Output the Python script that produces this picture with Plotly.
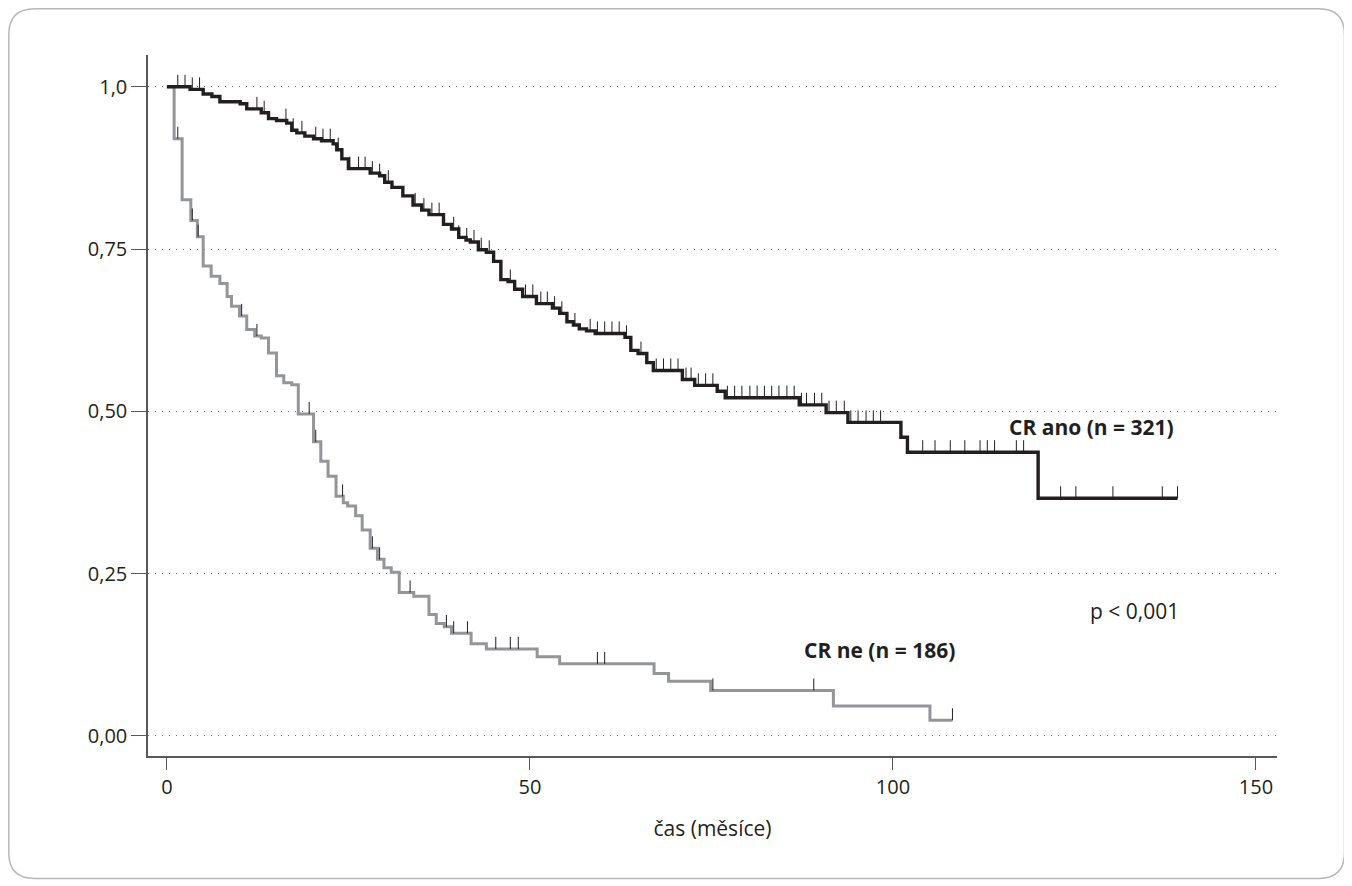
import plotly.graph_objects as go

# ---- data ----
# CR ano (n = 321): step times (months) and survival after each step
ano_t = [0, 3.2, 5.0, 6.2, 7.3, 10.1, 11.0, 13.0, 14.0, 15.1, 16.5, 17.2, 17.9, 19.0, 20.2,
         21.3, 22.9, 23.4, 24.1, 25.0, 28.0, 29.3, 30.0, 31.0, 32.5, 33.9, 35.1, 36.1, 38.1,
         39.2, 40.2, 41.2, 41.8, 42.9, 44.0, 45.0, 46.0, 47.0, 47.9, 49.0, 50.9, 53.1, 54.1,
         55.1, 56.0, 56.8, 57.8, 59.0, 63.1, 63.9, 64.9, 66.1, 67.0, 71.0, 72.7, 75.8, 76.9,
         87.1, 90.8, 93.8, 101.1, 102.0, 120.0]
ano_s = [1.0, 0.996, 0.989, 0.985, 0.977, 0.974, 0.966, 0.960, 0.951, 0.948, 0.944, 0.933, 0.929, 0.924, 0.920,
         0.917, 0.912, 0.903, 0.889, 0.874, 0.867, 0.863, 0.853, 0.845, 0.832, 0.818, 0.810, 0.803, 0.788,
         0.781, 0.768, 0.764, 0.761, 0.749, 0.745, 0.731, 0.703, 0.700, 0.688, 0.677, 0.666, 0.659, 0.651,
         0.638, 0.633, 0.627, 0.624, 0.620, 0.614, 0.594, 0.589, 0.575, 0.563, 0.549, 0.540, 0.531, 0.521,
         0.510, 0.498, 0.483, 0.460, 0.437, 0.366]
ano_end = 139.2
ano_cens = [1.5, 2.5, 3.5, 4.5, 12.4, 13.4, 16.4, 17.4, 18.6, 20.5, 21.5, 22.5, 23.6, 25.2, 26.4,
            27.3, 28.3, 29.3, 30.5, 34.2, 35.4, 36.5, 37.5, 39.5, 40.2, 41.3, 42.3, 43.3, 44.4,
            47.3, 49.4, 50.4, 51.5, 52.4, 53.4, 54.4, 56.2, 58.3, 59.3, 60.3, 61.3, 62.3, 63.3,
            65.3, 67.4, 68.4, 69.4, 70.4, 71.5, 72.2, 73.2, 74.2, 75.2, 77.2, 78.2, 79.2, 80.3,
            81.3, 82.3, 83.3, 84.3, 85.4, 86.4, 87.4, 88.1, 89.2, 90.2, 91.2, 92.2, 93.3, 94.2,
            95.2, 96.3, 97.3, 98.3, 104.1, 105.8, 107.9, 109.9, 112.0, 113.0, 114.0, 117.0,
            118.0, 123.1, 125.2, 130.3, 137.1, 139.2]

# CR ne (n = 186)
ne_t = [0, 1.0, 2.1, 3.3, 4.2, 5.0, 6.1, 7.3, 8.3, 8.9, 10.0, 11.0, 12.1, 13.0, 14.0, 15.1,
        16.1, 17.2, 18.1, 20.2, 21.2, 22.2, 23.3, 24.3, 24.9, 26.0, 26.9, 28.0, 29.0, 29.9,
        30.9, 32.0, 34.0, 36.1, 37.1, 38.2, 39.2, 41.9, 44.0, 51.0, 54.1, 67.1, 69.1, 74.9,
        91.8, 105.1]
ne_s = [1.0, 0.920, 0.826, 0.794, 0.769, 0.724, 0.708, 0.697, 0.677, 0.662, 0.647, 0.626, 0.616,
        0.613, 0.590, 0.555, 0.544, 0.541, 0.496, 0.453, 0.423, 0.400, 0.369, 0.359, 0.354,
        0.339, 0.317, 0.289, 0.272, 0.259, 0.252, 0.221, 0.215, 0.187, 0.173, 0.168, 0.158,
        0.142, 0.134, 0.122, 0.111, 0.096, 0.084, 0.070, 0.046, 0.024]
ne_end = 108.2
ne_cens = [1.5, 3.5, 4.3, 10.3, 12.4, 19.6, 20.5, 24.2, 28.3, 29.3, 33.5, 38.5, 39.5, 41.4,
           45.3, 47.3, 48.4, 59.3, 60.3, 75.2, 89.1, 108.2]

x_ticks = [0, 50, 100, 150]
y_ticks = [0, 0.25, 0.5, 0.75, 1.0]
y_ticktext = ["0,00", "0,25", "0,50", "0,75", "1,0"]

label_ano = "CR ano (n = 321)"
label_ne = "CR ne (n = 186)"
p_text = "p < 0,001"
x_title = "čas (měsíce)"

# ---- helpers ----
def surv_at(ts, ss, t):
    v = ss[0]
    for ti, si in zip(ts, ss):
        if ti <= t:
            v = si
        else:
            break
    return v

def cens_segments(ts, ss, cens, h=0.0185):
    xs, ys = [], []
    for c in cens:
        s = surv_at(ts, ss, c)
        xs += [c, c, None]
        ys += [s, s + h, None]
    return xs, ys

TXT = "#231f20"
FONT = "Open Sans"

fig = go.Figure()

# curves
fig.add_trace(go.Scatter(x=ne_t + [ne_end], y=ne_s + [ne_s[-1]], mode="lines",
                         line=dict(shape="hv", color="#939598", width=3), showlegend=False,
                         hoverinfo="skip"))
fig.add_trace(go.Scatter(x=ano_t + [ano_end], y=ano_s + [ano_s[-1]], mode="lines",
                         line=dict(shape="hv", color="#231f20", width=3.4), showlegend=False,
                         hoverinfo="skip"))
cx, cy = cens_segments(ne_t, ne_s, ne_cens)
fig.add_trace(go.Scatter(x=cx, y=cy, mode="lines", line=dict(color="#231f20", width=1),
                         showlegend=False, hoverinfo="skip"))
cx, cy = cens_segments(ano_t, ano_s, ano_cens)
fig.add_trace(go.Scatter(x=cx, y=cy, mode="lines", line=dict(color="#231f20", width=1),
                         showlegend=False, hoverinfo="skip"))

# annotations
fig.add_annotation(x=127.4, y=0.476, text="<b>" + label_ano + "</b>", showarrow=False,
                   font=dict(family=FONT, size=21, color=TXT))
fig.add_annotation(x=98.1, y=0.132, text="<b>" + label_ne + "</b>", showarrow=False,
                   font=dict(family=FONT, size=21, color=TXT))
fig.add_annotation(x=133.3, y=0.193, text=p_text, showarrow=False,
                   font=dict(family=FONT, size=21, color=TXT))

# page body has an 8px margin: figure is 1344x878, placed at (8, 8)
W, H = 1344, 878
ML, MR, MT, MB = 140, 75, 47, 130
PW, PH = W - ML - MR, H - MT - MB

def px(xp):   # figure pixel -> paper x
    return (xp - ML) / PW
def py(yp):   # figure pixel -> paper y
    return (MT + PH - yp) / PH

# rounded frame around the picture
x0, x1, y0, y1, r = 0.75, 1336.5, 0.75, 870.5, 26
path = (f"M {px(x0 + r)},{py(y0)} L {px(x1 - r)},{py(y0)} "
        f"Q {px(x1)},{py(y0)} {px(x1)},{py(y0 + r)} "
        f"L {px(x1)},{py(y1 - r)} Q {px(x1)},{py(y1)} {px(x1 - r)},{py(y1)} "
        f"L {px(x0 + r)},{py(y1)} Q {px(x0)},{py(y1)} {px(x0)},{py(y1 - r)} "
        f"L {px(x0)},{py(y0 + r)} Q {px(x0)},{py(y0)} {px(x0 + r)},{py(y0)} Z")
fig.add_shape(type="path", path=path, xref="paper", yref="paper",
              line=dict(color="#b8b8b8", width=1.5), layer="below")

fig.update_layout(
    width=W, height=H,
    margin=dict(l=ML, r=MR, t=MT, b=MB),
    paper_bgcolor="white", plot_bgcolor="white",
    font=dict(family=FONT, size=20, color=TXT),
    xaxis=dict(range=[-2.6, 152.9], tickvals=x_ticks, ticks="outside", ticklen=12,
               tickwidth=1.2, tickcolor="#58595b", showline=True, linecolor="#58595b",
               linewidth=1.5, showgrid=False, zeroline=False,
               title=dict(text=x_title, font=dict(family=FONT, size=21, color=TXT), standoff=23),
               tickfont=dict(family=FONT, size=20, color=TXT)),
    yaxis=dict(range=[-0.031, 1.049], tickvals=y_ticks, ticktext=y_ticktext, ticks="outside",
               ticklen=15, tickwidth=1.2, tickcolor="#58595b", showline=True,
               linecolor="#58595b", linewidth=1.5, showgrid=True, gridcolor="#6d6e71",
               gridwidth=1, griddash="1px,6px", zeroline=False,
               tickfont=dict(family=FONT, size=20, color=TXT)),
)

fig.write_html("out.html")
